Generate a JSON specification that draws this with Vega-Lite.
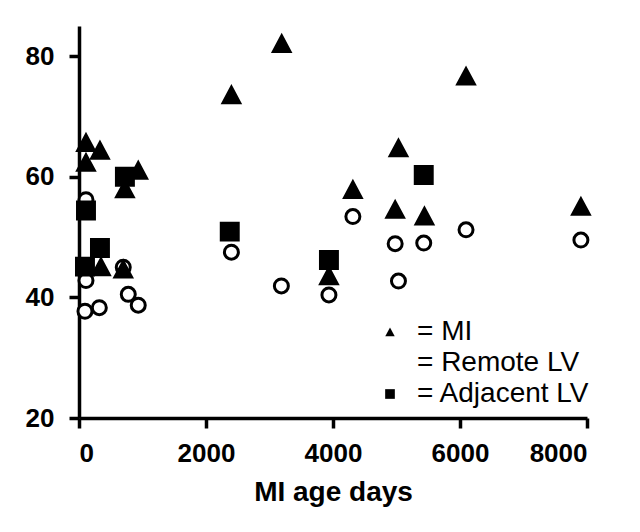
{
  "$schema": "https://vega.github.io/schema/vega-lite/v6.json",
  "autosize": {"type": "none"},
  "padding": {"left": 79, "top": 26, "right": 53, "bottom": 114},
  "width": 508,
  "height": 392,
  "background": "white",
  "config": {
    "view": {"stroke": null},
    "font": "Liberation Sans",
    "axis": {
      "grid": false,
      "domainColor": "black",
      "domainWidth": 3.5,
      "tickColor": "black",
      "tickWidth": 3.5,
      "tickSize": 10,
      "labelFont": "Liberation Sans",
      "labelFontWeight": "bold",
      "labelFontSize": 26,
      "labelColor": "black",
      "titleFont": "Liberation Sans",
      "titleFontWeight": "bold",
      "titleFontSize": 28,
      "titleColor": "black"
    },
    "legend": {
      "title": null,
      "orient": "none",
      "legendX": 297,
      "legendY": 292,
      "padding": 0,
      "labelFont": "Liberation Sans",
      "labelFontSize": 28,
      "labelColor": "black",
      "labelLimit": 400,
      "labelOffset": 13,
      "rowPadding": 3,
      "symbolSize": 64,
      "symbolStrokeWidth": 2.5,
      "symbolStrokeColor": "black"
    }
  },
  "data": {
    "values": [
      {"age": 110, "value": 56.2, "series": "Remote LV"},
      {"age": 110, "value": 42.8, "series": "Remote LV"},
      {"age": 94, "value": 37.7, "series": "Remote LV"},
      {"age": 320, "value": 38.3, "series": "Remote LV"},
      {"age": 697, "value": 45.0, "series": "Remote LV"},
      {"age": 776, "value": 40.5, "series": "Remote LV"},
      {"age": 933, "value": 38.7, "series": "Remote LV"},
      {"age": 2400, "value": 47.5, "series": "Remote LV"},
      {"age": 3187, "value": 41.9, "series": "Remote LV"},
      {"age": 3936, "value": 40.4, "series": "Remote LV"},
      {"age": 4313, "value": 53.4, "series": "Remote LV"},
      {"age": 4979, "value": 48.9, "series": "Remote LV"},
      {"age": 5031, "value": 42.7, "series": "Remote LV"},
      {"age": 5429, "value": 49.0, "series": "Remote LV"},
      {"age": 6095, "value": 51.2, "series": "Remote LV"},
      {"age": 7904, "value": 49.5, "series": "Remote LV"},
      {"age": 110, "value": 65.6, "series": "MI"},
      {"age": 330, "value": 64.3, "series": "MI"},
      {"age": 110, "value": 62.3, "series": "MI"},
      {"age": 933, "value": 61.0, "series": "MI"},
      {"age": 723, "value": 57.9, "series": "MI"},
      {"age": 346, "value": 45.0, "series": "MI"},
      {"age": 697, "value": 44.6, "series": "MI"},
      {"age": 2400, "value": 73.5, "series": "MI"},
      {"age": 3192, "value": 82.0, "series": "MI"},
      {"age": 3936, "value": 43.5, "series": "MI"},
      {"age": 4313, "value": 57.8, "series": "MI"},
      {"age": 4979, "value": 54.5, "series": "MI"},
      {"age": 5031, "value": 64.7, "series": "MI"},
      {"age": 5440, "value": 53.4, "series": "MI"},
      {"age": 6095, "value": 76.6, "series": "MI"},
      {"age": 7904, "value": 55.0, "series": "MI"},
      {"age": 110, "value": 54.4, "series": "Adjacent LV"},
      {"age": 330, "value": 48.2, "series": "Adjacent LV"},
      {"age": 94, "value": 45.1, "series": "Adjacent LV"},
      {"age": 723, "value": 60.0, "series": "Adjacent LV"},
      {"age": 2374, "value": 50.9, "series": "Adjacent LV"},
      {"age": 3936, "value": 46.2, "series": "Adjacent LV"},
      {"age": 5429, "value": 60.3, "series": "Adjacent LV"}
    ]
  },
  "mark": {"type": "point", "opacity": 1, "filled": false, "size": 196, "stroke": "black", "strokeWidth": 3, "strokeJoin": "miter"},
  "encoding": {
    "x": {
      "field": "age", "type": "quantitative",
      "scale": {"domain": [0, 8000], "nice": false, "zero": false},
      "axis": {"values": [0, 2000, 4000, 6000, 8000], "format": "d", "title": "MI age days", "labelPadding": 12, "titlePadding": 12}
    },
    "y": {
      "field": "value", "type": "quantitative",
      "scale": {"domain": [20, 85], "nice": false, "zero": false},
      "axis": {"values": [20, 40, 60, 80], "title": null, "labelPadding": 15}
    },
    "order": {"field": "series", "sort": "descending"},
    "shape": {
      "field": "series", "type": "nominal",
      "scale": {
        "domain": ["MI", "Remote LV", "Adjacent LV"],
        "range": [
          "M0,-1.15L1.18,1.06L-1.18,1.06Z",
          "circle",
          "M-1.21,-1.21H1.21V1.21H-1.21Z"
        ]
      },
      "legend": {"labelExpr": "'= ' + datum.label"}
    },
    "fill": {
      "field": "series", "type": "nominal",
      "scale": {"domain": ["MI", "Remote LV", "Adjacent LV"], "range": ["black", "white", "black"]}
    }
  }
}
